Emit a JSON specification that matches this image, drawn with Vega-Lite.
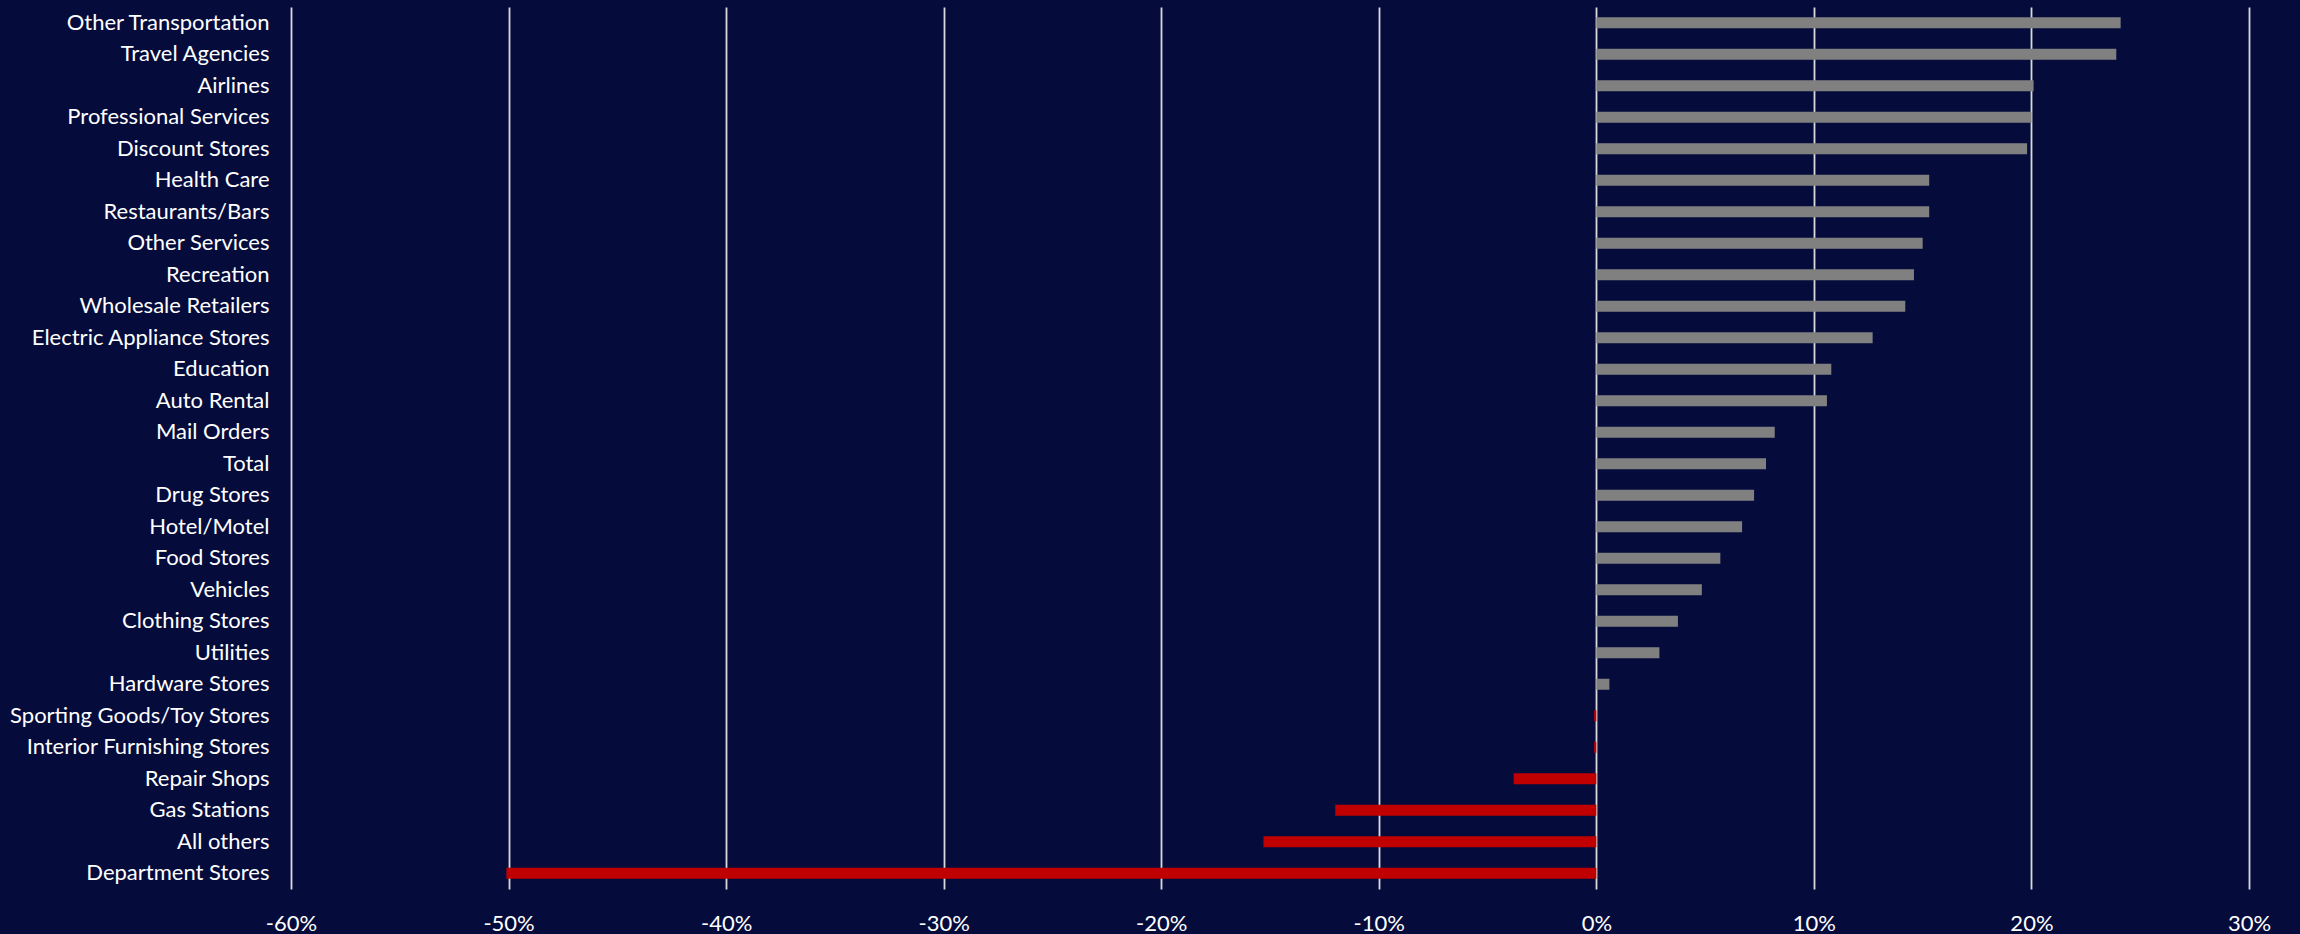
{
  "$schema": "https://vega.github.io/schema/vega-lite/v6.json",
  "width": 1958,
  "height": 882,
  "autosize": {"type": "none"},
  "padding": {"left": 291, "top": 7, "right": 51, "bottom": 45},
  "background": "#050c3c",
  "config": {"view": {"stroke": null}, "font": "Lato"},
  "data": {
    "values": [
      {"category": "Other Transportation", "value": 0.241},
      {"category": "Travel Agencies", "value": 0.239},
      {"category": "Airlines", "value": 0.201},
      {"category": "Professional Services", "value": 0.200},
      {"category": "Discount Stores", "value": 0.198},
      {"category": "Health Care", "value": 0.153},
      {"category": "Restaurants/Bars", "value": 0.153},
      {"category": "Other Services", "value": 0.150},
      {"category": "Recreation", "value": 0.146},
      {"category": "Wholesale Retailers", "value": 0.142},
      {"category": "Electric Appliance Stores", "value": 0.127},
      {"category": "Education", "value": 0.108},
      {"category": "Auto Rental", "value": 0.106},
      {"category": "Mail Orders", "value": 0.082},
      {"category": "Total", "value": 0.078},
      {"category": "Drug Stores", "value": 0.0725},
      {"category": "Hotel/Motel", "value": 0.067},
      {"category": "Food Stores", "value": 0.057},
      {"category": "Vehicles", "value": 0.0485},
      {"category": "Clothing Stores", "value": 0.0375},
      {"category": "Utilities", "value": 0.029},
      {"category": "Hardware Stores", "value": 0.006},
      {"category": "Sporting Goods/Toy Stores", "value": -0.001},
      {"category": "Interior Furnishing Stores", "value": -0.001},
      {"category": "Repair Shops", "value": -0.038},
      {"category": "Gas Stations", "value": -0.120},
      {"category": "All others", "value": -0.153},
      {"category": "Department Stores", "value": -0.501}
    ]
  },
  "mark": {"type": "bar"},
  "encoding": {
    "y": {
      "field": "category",
      "type": "nominal",
      "sort": null,
      "scale": {"paddingInner": 0.65, "paddingOuter": 0.325},
      "axis": {
        "title": null,
        "ticks": false,
        "domain": false,
        "labelFont": "Lato",
        "labelFontSize": 22,
        "labelColor": "#ffffff",
        "labelPadding": 22,
        "labelLimit": 400
      }
    },
    "x": {
      "field": "value",
      "type": "quantitative",
      "scale": {"domain": [-0.6, 0.3], "nice": false, "zero": false},
      "axis": {
        "title": null,
        "format": ".0%",
        "labelExpr": "replace(datum.label, '\u2212', '-')",
        "values": [-0.6, -0.5, -0.4, -0.3, -0.2, -0.1, 0, 0.1, 0.2, 0.3],
        "ticks": false,
        "domain": false,
        "grid": true,
        "gridColor": "#d9d9d9",
        "gridWidth": 1.8,
        "labelFont": "Lato",
        "labelFontSize": 22,
        "labelColor": "#ffffff",
        "labelPadding": 24,
        "labelFlush": false
      }
    },
    "color": {
      "condition": {"test": "datum.value < 0", "value": "#c00000"},
      "value": "#808080"
    }
  }
}
